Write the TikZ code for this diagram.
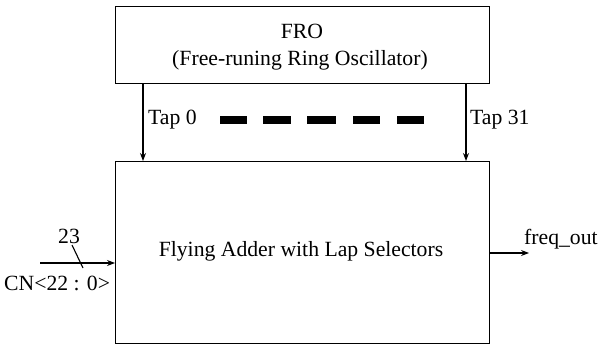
\documentclass[tikz,border=0pt]{standalone}
\usepackage{fontspec}
\setmainfont{Liberation Serif}
\usetikzlibrary{arrows.meta}
\begin{document}
\begin{tikzpicture}[x=1pt,y=-1pt,
  block/.style={draw, line width=1.4pt, anchor=north west, inner sep=0pt},
  sig/.style={line width=1.1pt, -{Stealth[length=8pt,width=6pt]}},
  lbl/.style={font=\fontsize{21.7}{25}\selectfont, inner sep=0pt},
  dashbar/.style={fill=black, draw=none}]
\useasboundingbox (0,0) rectangle (600,350);

% oscillator block
\node[block, minimum width=374pt, minimum height=77pt] (fro) at (115,6) {};
\node[lbl] (froname) at (302,31) {FRO};
\node[lbl] (frosub) at (300,60) {(Free-runing Ring Oscillator)};

% flying adder block
\node[block, minimum width=374pt, minimum height=182pt] (fa) at (115,161) {};
\node[lbl] (falbl) at (301,251) {Flying Adder with Lap Selectors};

% tap connections
\coordinate (t0) at (143,0);
\coordinate (t31) at (466,0);
\draw[sig] (fro.south -| t0) -- (fa.north -| t0);
\draw[sig] (fro.south -| t31) -- (fa.north -| t31);
\node[lbl, anchor=west] (tap0) at (148,120) {Tap 0};
\node[lbl, anchor=west] (tap31) at (470,120) {Tap 31};

% taps in between
\foreach \a/\b in {220/247, 263/291, 307/336, 353/380, 397/424}
  \fill[dashbar] (\a,116.5) rectangle (\b,124);

% control word input
\coordinate (cnin) at (40,263);
\draw[sig] (cnin) -- (cnin -| fa.west);
\coordinate (bs) at (72,245);
\coordinate (be) at (83,268);
\draw[line width=1.1pt] (bs) -- (be);
\node[lbl] (width) at (69,236) {23};
\node[lbl, anchor=west] (cn) at (4,283) {CN<22 : 0>};

% output
\coordinate (fout) at (529,253);
\draw[sig] (fa.east |- fout) -- (fout);
\node[lbl, anchor=west] (foutlbl) at (524,239) {freq\_out};
\end{tikzpicture}
\end{document}
